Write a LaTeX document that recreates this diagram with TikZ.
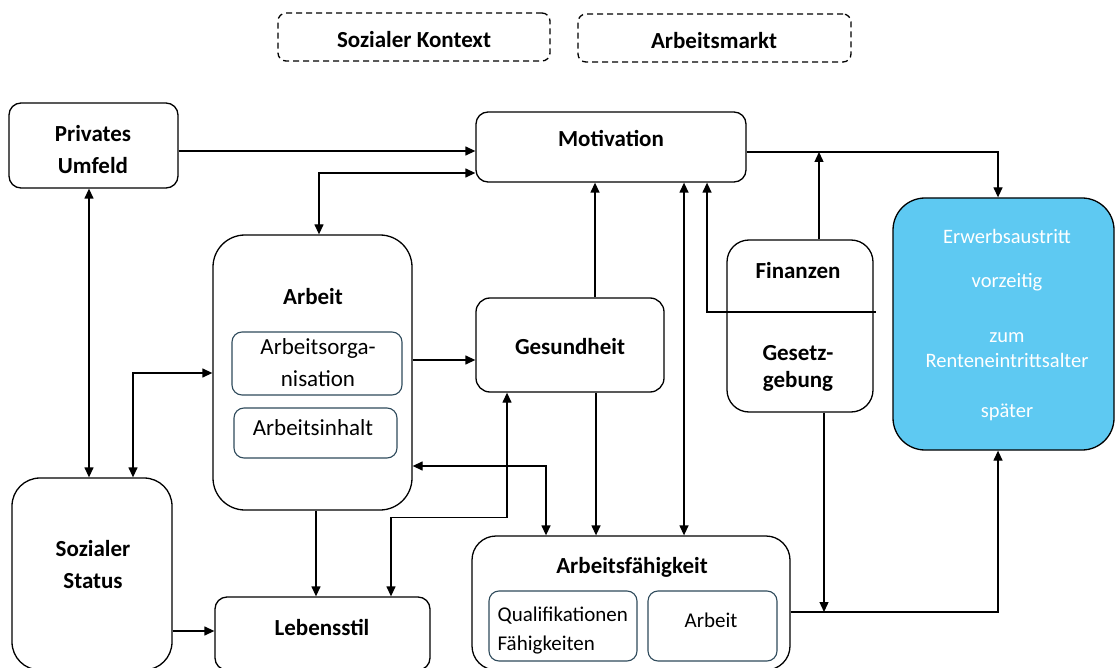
\documentclass[tikz,border=0pt]{standalone}
\usepackage{fontspec}
\setmainfont{Carlito}
\usetikzlibrary{arrows.meta}
\definecolor{innerc}{RGB}{47,75,92}
\definecolor{erwfill}{RGB}{94,201,242}
\begin{document}
\begin{tikzpicture}[x=1pt,y=-1pt,line width=1.3pt,
  >={Triangle[length=10pt,width=9pt]},
  box/.style={draw,rounded corners=#1,inner sep=0pt},
  box/.default=12pt,
  inbox/.style={draw=innerc,rounded corners=10pt,inner sep=0pt,line width=1.1pt},
  tb/.style={font=\bfseries\fontsize{23}{32}\selectfont,align=center,inner sep=0pt},
  tr/.style={font=\fontsize{23}{32}\selectfont,align=center,inner sep=0pt},
  ts/.style={font=\fontsize{21}{29}\selectfont,inner sep=0pt},
  tw/.style={font=\fontsize{20.5}{25}\selectfont,text=white,align=center,inner sep=0pt}]
\clip (0,0) rectangle (1116,668);
\fill[white] (0,0) rectangle (1116,668);
% boxes
\node[box=8pt,dashed,dash pattern=on 6pt off 4pt,minimum width=272pt,minimum height=48pt] (kon) at (414,37) {};
\node[box=8pt,dashed,dash pattern=on 6pt off 4pt,minimum width=273pt,minimum height=48pt] (mkt) at (714.5,38) {};
\node[box,minimum width=169pt,minimum height=85pt] (priv) at (93.5,145.5) {};
\node[box,minimum width=270pt,minimum height=70pt] (mot) at (611,147) {};
\node[box=32pt,minimum width=199pt,minimum height=275pt] (arb) at (312.5,372.5) {};
\node[inbox,minimum width=170pt,minimum height=63pt] (org) at (317,363.5) {};
\node[inbox,minimum width=163pt,minimum height=50pt] (inh) at (315.5,433) {};
\node[box=14pt,minimum width=188pt,minimum height=94pt] (ges) at (570,345) {};
\node[box=22pt,minimum width=146pt,minimum height=172pt] (fin) at (800,326) {};
\node[box=32pt,fill=erwfill,minimum width=221pt,minimum height=252pt] (erw) at (1003.5,324) {};
\node[box=28pt,minimum width=160pt,minimum height=192pt] (soz) at (92,574) {};
\node[box,minimum width=215pt,minimum height=73pt] (leb) at (322.5,633.5) {};
\node[box=24pt,minimum width=318pt,minimum height=134pt] (af) at (631,603) {};
\node[inbox,minimum width=148pt,minimum height=70pt] (qf) at (563,626) {};
\node[inbox,minimum width=129pt,minimum height=70pt] (aa) at (712.5,626) {};
\draw (fin.west |- 0,312) -- ([xshift=2pt]fin.east |- 0,312);
% texts
\node[tb] (konT) at (414,40) {Sozialer Kontext};
\node[tb] (mktT) at (714,41) {Arbeitsmarkt};
\node[tb] (privT) at (93,150) {Privates\\Umfeld};
\node[tb] (motT) at (611,139) {Motivation};
\node[tb] (arbT) at (313,297) {Arbeit};
\node[tr] (orgT) at (318,363) {Arbeitsorga-\\nisation};
\node[tr] (inhT) at (313,428) {Arbeitsinhalt};
\node[tb] (gesT) at (570,347) {Gesundheit};
\node[tb] (finT) at (798,271) {Finanzen};
\node[tb,font=\bfseries\fontsize{23}{27}\selectfont] (gesetzT) at (798,368) {Gesetz-\\gebung};
\node[tw] (e1) at (1007,236) {Erwerbsaustritt};
\node[tw] (e2) at (1007,282) {vorzeitig};
\node[tw] (e3) at (1007,350) {zum\\Renteneintrittsalter};
\node[tw] (e4) at (1007,412) {später};
\node[tb] (sozT) at (93,565) {Sozialer\\Status};
\node[tb] (lebT) at (322,627) {Lebensstil};
\node[tb] (afT) at (632,567) {Arbeitsfähigkeit};
\node[ts,align=left,anchor=west] (qfT) at (497,631) {Qualifikationen\\Fähigkeiten};
\node[ts] (aaT) at (711,620) {Arbeit};
% connectors
\coordinate (j1) at (819,152);
\coordinate (j2) at (824,612);
\draw[->] (priv.east |- 0,151) -- (mot.west |- 0,151);
\draw[<->] (arb.north -| 319,0) |- (mot.west |- 0,173);
\draw[<->] (priv.south -| 89,0) -- (soz.north -| 89,0);
\draw[<->] (arb.west |- 0,373) -| (soz.north -| 133,0);
\draw[->] (arb.east |- 0,360) -- (ges.west |- 0,360);
\draw[->] (ges.north -| 595,0) -- (mot.south -| 595,0);
\draw[<->] (af.north -| 684,0) -- (mot.south -| 684,0);
\draw[->] (fin.west |- 0,312) -| (mot.south -| 707,0);
\draw[->] (fin.north -| 819,0) -- (j1);
\draw[->] (mot.east |- 0,152) -| (erw.north -| 998,0);
\draw[->] (ges.south -| 596,0) -- (af.north -| 596,0);
\draw[<->] (arb.east |- 0,466) -| (af.north -| 546,0);
\draw[<->] (leb.north -| 391,0) -- ++(0,-79) -| (ges.south -| 507,0);
\draw[->] (arb.south -| 316,0) -- (leb.north -| 316,0);
\draw[->] (soz.east |- 0,631) -- (leb.west |- 0,631);
\draw[->] (af.east |- 0,612) -| (erw.south -| 998,0);
\draw[->] (fin.south -| 824,0) -- (j2);
\end{tikzpicture}
\end{document}
